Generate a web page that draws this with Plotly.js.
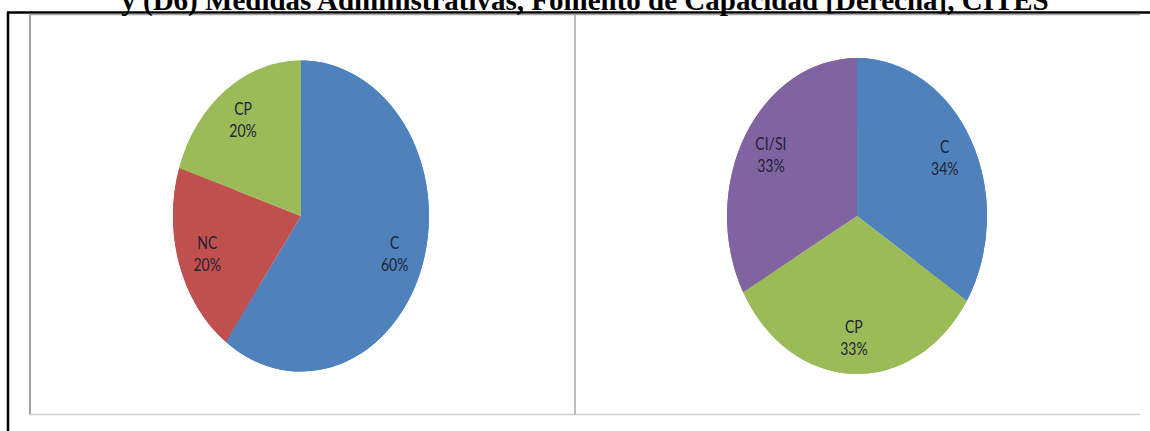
<!DOCTYPE html>
<html>
<head>
<meta charset="utf-8">
<script src="https://cdn.plot.ly/plotly-3.0.1.min.js"></script>
<style>
  body { margin: 0; background: #fff; }
  #wrap { position: relative; width: 1150px; height: 431px; overflow: hidden; }
  #frame { position: absolute; left: 0; top: 0; }
  /* the original pies are stretched into ellipses */
  #pies { position: absolute; left: 0; top: 0; transform: scaleY(1.215); transform-origin: 0 0; }
</style>
</head>
<body>
<div id="wrap">
  <div id="frame"></div>
  <div id="pies"></div>
</div>
<script>
// Data
var titleText = "y (D6) Medidas Administrativas, Fomento de Capacidad [Derecha], CITES";

var leftLabels = ["C", "NC", "CP"];
var leftValues = [60, 20, 20];
var leftColors = ["#4F81BD", "#C0504D", "#9BBB59"];

var rightLabels = ["C", "CP", "CI/SI"];
var rightValues = [34, 33, 33];
var rightColors = ["#4F81BD", "#9BBB59", "#8064A2"];

// Frame: title plus the black box and the gray chart panels
var W = 1150, H = 431;

function line(x0, y0, x1, y1, color, width) {
    return { type: "line", xref: "x", yref: "y", x0: x0, y0: y0, x1: x1, y1: y1,
             line: { color: color, width: width } };
}

var frameLayout = {
    width: W,
    height: H,
    margin: { l: 0, r: 0, t: 0, b: 0 },
    paper_bgcolor: "white",
    plot_bgcolor: "white",
    showlegend: false,
    title: {
        text: "<b>" + titleText + "</b>",
        font: { family: "Liberation Serif, Times New Roman, serif", size: 29, color: "black" },
        x: 0.5087,
        xanchor: "center",
        xref: "container",
        y: 1,
        yanchor: "middle",
        yref: "container"
    },
    xaxis: { range: [0, W], visible: false, fixedrange: true },
    yaxis: { range: [H, 0], visible: false, fixedrange: true },
    shapes: [
        line(7, 12.5, W, 12.5, "black", 2.5),
        line(8, 12, 8, H, "black", 2.5),
        line(30, 14.5, 1140, 14.5, "#a6a6a6", 1.5),
        line(30, 14.5, 30, 414.5, "#a0a0a0", 2),
        line(30, 414.5, 1140, 414.5, "#cfcfcf", 1.5),
        line(575, 14.5, 575, 414.5, "#a6a6a6", 1.5)
    ]
};

Plotly.newPlot("frame", [], frameLayout, { staticPlot: true });

// Pies: a full pie for the slices, and a ring on top of it that carries the
// labels, so Plotly sets them further out, as in the original
var textFont = { family: "Lato, Open Sans, sans-serif", size: 14, color: "#1f2333" };
var leftDomain = { x: [0.1504, 0.3730], y: [0.1386, 0.8597] };
var rightDomain = { x: [0.6322, 0.8583], y: [0.1330, 0.8654] };

function pieTrace(labels, values, colors, domain, withText) {
    return {
        type: "pie",
        labels: labels,
        values: values,
        marker: { colors: colors, line: { width: 0 } },
        sort: false,
        direction: "clockwise",
        rotation: 0,
        hole: withText ? 0.54 : 0,
        textinfo: withText ? "label+percent" : "none",
        textposition: "inside",
        insidetextorientation: "horizontal",
        insidetextfont: textFont,
        domain: domain,
        hoverinfo: "none"
    };
}

var pieData = [
    pieTrace(leftLabels, leftValues, leftColors, leftDomain, false),
    pieTrace(leftLabels, leftValues, leftColors, leftDomain, true),
    pieTrace(rightLabels, rightValues, rightColors, rightDomain, false),
    pieTrace(rightLabels, rightValues, rightColors, rightDomain, true)
];

var pieLayout = {
    width: W,
    height: 355,
    margin: { l: 0, r: 0, t: 0, b: 0 },
    paper_bgcolor: "rgba(0,0,0,0)",
    plot_bgcolor: "rgba(0,0,0,0)",
    showlegend: false
};

Plotly.newPlot("pies", pieData, pieLayout, { staticPlot: true });
</script>
</body>
</html>
